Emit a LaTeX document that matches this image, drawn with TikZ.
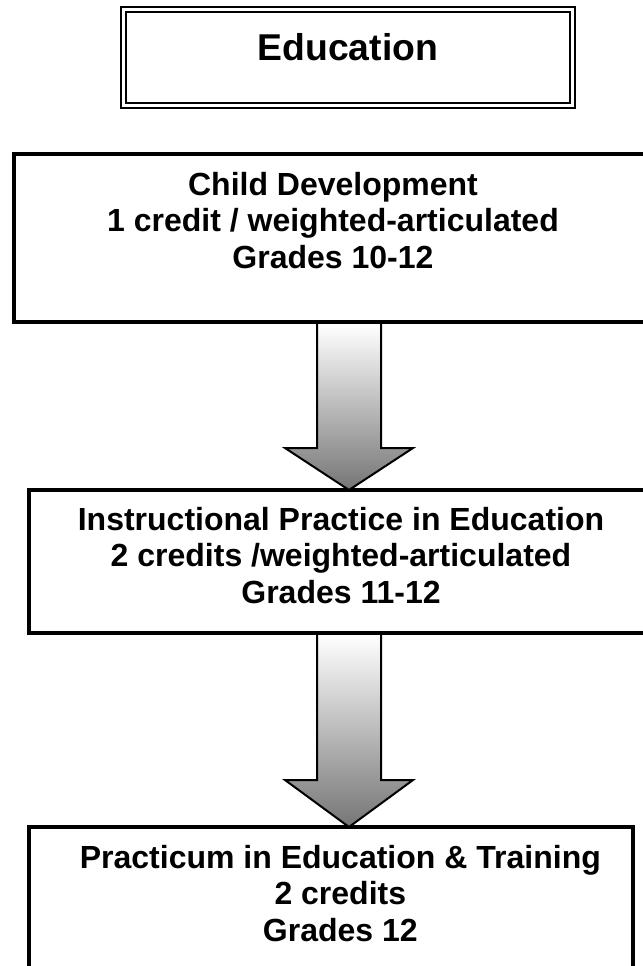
\documentclass[tikz,border=0pt]{standalone}
\usepackage{fontspec}
\setmainfont{Liberation Sans}
\usetikzlibrary{calc}

% box text: width, height, top gap, lines
\newcommand{\cardtext}[4]{\parbox[c][#2][t]{#1}{\centering\vspace*{#3}#4}}
% block arrow: top point, tip, head length
\newcommand{\blockarrow}[3]{%
	\shade[arrowfill] ($(#1)+(-32,2)$) -- ($(#2)+(-32,-#3)$) -- ($(#2)+(-64,-#3)$) -- (#2) -- ($(#2)+(64,-#3)$) -- ($(#2)+(32,-#3)$) -- ($(#1)+(32,2)$);
}

\begin{document}
\begin{tikzpicture}[x=0.75pt, y=-0.75pt,
	course/.style={draw, rectangle, line width=2.5pt, inner sep=0pt, outer sep=0pt, anchor=north west, font=\bfseries\fontsize{24}{27.5}\selectfont},
	heading/.style={draw, rectangle, double, double distance=2.25pt, line width=1.5pt, inner sep=0pt, outer sep=0pt, anchor=north west, font=\bfseries\fontsize{28}{30}\selectfont},
	arrowfill/.style={draw=black, line width=1.5pt, top color=white, bottom color=black!54}]
				\useasboundingbox (0,0) rectangle (642,966);
				\node[heading] (edu)at(123.5, 9.5) {\cardtext{336.4pt}{72pt}{17.6pt}{Education}};
				\node[course] (cd)at(14, 154) {\cardtext{478.5pt}{126pt}{13.5pt}{Child Development\\1 credit / weighted-articulated\\Grades 10-12}};
				\node[course] (ip)at(29, 490) {\cardtext{468pt}{107.25pt}{12.75pt}{Instructional Practice in Education\\2 credits /weighted-articulated\\Grades 11-12}};
				\node[course] (pe)at(29, 827) {\cardtext{453pt}{114.75pt}{13.5pt}{\hspace*{14pt}Practicum in Education \& Training\\\hspace*{14pt}2 credits\\\hspace*{14pt}Grades 12}};
				\coordinate (ax) at (349, 0);
				\coordinate (a1s) at (cd.south -| ax);
				\coordinate (a1t) at (ip.north -| ax);
				\coordinate (a2s) at (ip.south -| ax);
				\coordinate (a2t) at (pe.north -| ax);
				\blockarrow{a1s}{a1t}{42}
				\blockarrow{a2s}{a2t}{47}
			\end{tikzpicture}
\end{document}
